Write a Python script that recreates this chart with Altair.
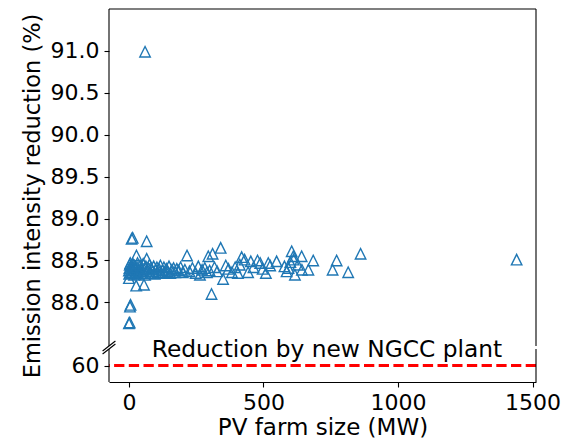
import altair as alt
import pandas as pd

# PV farm size (MW) and emission intensity reduction (%) for each site
pv_size_mw = [
    0, 3, 4, 6, 10, 14, 66, 28, 66, 27, 56, 60,
    0, 1, 0, 2, 3, 5, 6, 8, 9, 11, 13, 15, 17, 19, 21, 23, 26, 30, 32, 35,
    38, 41, 44, 47, 50, 53, 57, 60, 63, 68, 72, 76, 80, 84, 88, 92, 96, 100,
    104, 108, 112, 117, 121, 125, 130, 134, 139, 144, 149, 154, 160, 166,
    172, 178, 185, 192, 200, 208,
    216, 225, 236, 248, 258, 264, 272, 282, 290, 295, 300, 311, 318, 328,
    341, 307, 350, 360, 370, 383, 395, 405, 412, 419, 430, 443, 453, 463,
    478, 488, 497, 509, 518, 525, 549,
    578, 586, 593, 600, 605, 611, 612, 617, 628, 642, 643, 667, 685, 757,
    772, 815, 861, 1441,
]
reduction_pct = [
    87.75, 87.76, 87.95, 87.97, 88.76, 88.77, 88.73, 88.56, 88.52, 88.20, 88.21, 90.99,
    88.29, 88.34, 88.38, 88.41, 88.45, 88.47, 88.36, 88.39, 88.43, 88.35, 88.41,
    88.46, 88.38, 88.33, 88.44, 88.40, 88.36, 88.42, 88.47, 88.34, 88.39, 88.44,
    88.37, 88.41, 88.35, 88.46, 88.39, 88.33, 88.43, 88.37, 88.41, 88.45, 88.35,
    88.40, 88.37, 88.43, 88.34, 88.39, 88.42, 88.36, 88.40, 88.44, 88.35, 88.38,
    88.42, 88.36, 88.40, 88.37, 88.43, 88.35, 88.39, 88.41, 88.36, 88.40, 88.38,
    88.42, 88.36, 88.39,
    88.56, 88.37, 88.41, 88.35, 88.43, 88.33, 88.39, 88.41, 88.36, 88.55, 88.38,
    88.58, 88.42, 88.37, 88.65, 88.10, 88.28, 88.44, 88.40, 88.36, 88.42, 88.35,
    88.45, 88.54, 88.51, 88.36, 88.49, 88.42, 88.50, 88.47, 88.40, 88.35, 88.47,
    88.44, 88.49,
    88.43, 88.37, 88.41, 88.48, 88.61, 88.55, 88.51, 88.33, 88.45, 88.55, 88.39,
    88.39, 88.50, 88.39, 88.50, 88.36, 88.58, 88.51,
]

# Reference level for a new NGCC plant
ngcc_reduction = 60.0
ngcc_label = "Reduction by new NGCC plant"

x_ticks = [0, 500, 1000, 1500]
y_ticks = [60, 88.0, 88.5, 89.0, 89.5, 90.0, 90.5, 91.0]

W, H = 427, 373
x_min, x_max = -74, 1513
lo_min, lo_max = 59.5, 60.5      # lower (broken) segment
hi_min, hi_max = 87.48, 91.5     # upper segment

df = pd.DataFrame({"size": pv_size_mw, "reduction": reduction_pct})

x_scale = alt.Scale(domain=[x_min, x_max], nice=False, zero=False)
# piecewise linear y scale gives the broken axis: lower band, small gap, upper band
y_scale = alt.Scale(domain=[lo_min, lo_max, hi_min, hi_max],
                    range=[H, H - 33, H - 36, 0], nice=False, zero=False)

font = "DejaVu Sans"

points = alt.Chart(df).mark_point(
    shape="M0,-1L-1,1L1,1Z", filled=False, size=110, strokeWidth=1.4,
    color="#1f77b4", opacity=1,
).encode(
    x=alt.X("size:Q", scale=x_scale, axis=alt.Axis(
        values=x_ticks, format="d", title="PV farm size (MW)", grid=False,
        domainColor="black", domainWidth=1.1, tickColor="black", tickWidth=1.1,
        tickSize=5, labelPadding=5, labelFont=font, labelFontSize=22,
        labelColor="black", titleFont=font, titleFontSize=23,
        titleFontWeight="normal", titleColor="black", titlePadding=3,
        labelFlush=False)),
    y=alt.Y("reduction:Q", scale=y_scale, axis=alt.Axis(
        values=y_ticks, title="Emission intensity reduction (%)", grid=False,
        domain=False, tickColor="black", tickWidth=1.1, tickSize=5,
        labelPadding=5, labelFont=font, labelFontSize=22, labelColor="black",
        labelExpr="datum.value == 60 ? '60' : format(datum.value, '.1f')",
        titleFont=font, titleFontSize=22.5, titleFontWeight="normal",
        titleColor="black", titlePadding=6, labelFlush=False)),
)

ref_df = pd.DataFrame({"y": [ngcc_reduction]})
ngcc_line = alt.Chart(ref_df).mark_rule(
    color="red", strokeWidth=2.8, strokeDash=[10.3, 4.4]
).encode(y=alt.Y("y:Q", scale=y_scale))

label_df = pd.DataFrame({"x": [736], "y": [ngcc_reduction + 0.27], "t": [ngcc_label]})
ngcc_text = alt.Chart(label_df).mark_text(
    font=font, fontSize=23.3, color="black", align="center", baseline="alphabetic"
).encode(x=alt.X("x:Q", scale=x_scale), y=alt.Y("y:Q", scale=y_scale), text="t:N")

# frame: top spine, and left/right spines split at the axis break
spine_df = pd.DataFrame({
    "x": [x_min, x_min, x_max, x_max],
    "y": [hi_max, lo_max, hi_max, lo_max],
    "y2": [hi_min, lo_min, hi_min, lo_min],
})
spines = alt.Chart(spine_df).mark_rule(color="black", strokeWidth=1.1).encode(
    x=alt.X("x:Q", scale=x_scale), y=alt.Y("y:Q", scale=y_scale), y2="y2:Q")
top_df = pd.DataFrame({"y": [hi_max]})
top_spine = alt.Chart(top_df).mark_rule(color="black", strokeWidth=1.1).encode(
    y=alt.Y("y:Q", scale=y_scale))

# diagonal break marks on the left spine
brk1 = alt.Chart(ref_df).mark_rule(color="black", strokeWidth=1.1).encode(
    x=alt.value(-6.4), x2=alt.value(6.4), y=alt.value(H - 31), y2=alt.value(H - 41))
brk2 = alt.Chart(ref_df).mark_rule(color="black", strokeWidth=1.1).encode(
    x=alt.value(-6.4), x2=alt.value(6.4), y=alt.value(H - 28), y2=alt.value(H - 38))

chart = alt.layer(
    ngcc_line, spines, top_spine, brk1, brk2, points, ngcc_text
).properties(
    width=W, height=H,
    autosize=alt.AutoSizeParams(type="none"),
    padding={"left": 109, "top": 9, "right": 38, "bottom": 57},
    background="white",
).configure_view(stroke=None)

chart.save("out.html", embed_options={"renderer": "svg", "actions": False})
